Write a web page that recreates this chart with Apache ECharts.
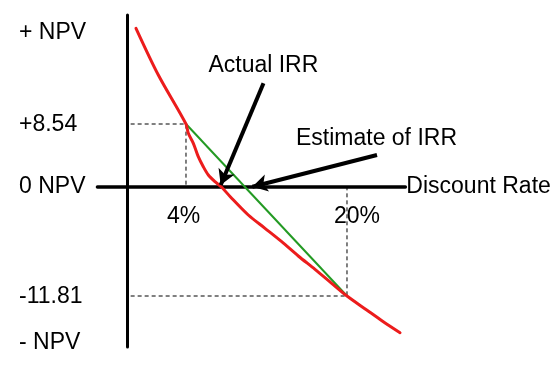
<!DOCTYPE html>
<html>
<head>
<meta charset="utf-8">
<script src="https://cdn.jsdelivr.net/npm/echarts@6/dist/echarts.min.js"></script>
<style>html,body{margin:0;padding:0;background:#fff}#c{width:559px;height:379px}</style>
</head>
<body>
<div id="c"></div>
<script>
// Schematic NPV profile (y in schematic NPV units, x in % discount rate)
const rateTicks = [4, 20];
const rateLabels = ['4%', '20%'];
const npvTickPos = [15.4, 6.2, 0, -11.0, -15.6];
const npvLabels = ['+ NPV', '+8.54', '0 NPV', '-11.81', '- NPV'];

const redRate = [-0.97, 1.25, 4.0, 4.23, 4.73, 5.22, 5.72, 6.22, 6.88, 7.55, 8.4, 10.19, 11.85, 13.51, 15.16, 16.82, 18.48, 20.0, 21.96, 23.61, 25.27];
const redNpv  = [15.87, 11.2, 6.3, 5.37, 4.37, 3.03, 2.03, 1.2, 0.53, -0.03, -0.97, -2.8, -4.13, -5.47, -6.9, -8.23, -9.63, -10.9, -12.3, -13.47, -14.57];

const greenRate = [4, 20];
const greenNpv = [6.3, -10.9];

const axisStartRate = -1.5;
const guideHigh = [[axisStartRate, 6.3], [4, 6.3], [4, 0]];
const guideLow = [[axisStartRate, -10.9], [20, -10.9], [20, 0]];

const arrowActual = [[11.7, 10.37], [7.45, 0.2]];
const arrowEstimate = [[22.98, 3.2], [10.6, 0.03]];
const annotations = [
  { text: 'Actual IRR', at: [11.69, 12.12] },
  { text: 'Estimate of IRR', at: [22.93, 4.87] }
];

const FONT = 'Liberation Sans, Arial, sans-serif';
const X_MIN = -4.8, X_MAX = 25.8;
const chart = echarts.init(document.getElementById('c'), null, { renderer: 'canvas' });

const zip = (a, b) => a.map((v, i) => [v, b[i]]);

chart.setOption({
  animation: false,
  backgroundColor: '#ffffff',
  grid: [
    { left: 97.45, right: 153.64, top: 15, bottom: 32, containLabel: false, outerBoundsMode: 'none' },
    { left: 97.45, right: 153.64, top: 15, bottom: 192, containLabel: false, outerBoundsMode: 'none' }
  ],
  xAxis: [
    {
      type: 'value', min: X_MIN, max: X_MAX, gridIndex: 0,
      axisLine: { show: true, onZero: true, lineStyle: { color: '#000', width: 3.5 } },
      axisTick: { show: false },
      splitLine: { show: false },
      axisLabel: { show: false },
      name: 'Discount Rate', nameLocation: 'end', nameGap: 1,
      nameTextStyle: { fontFamily: FONT, fontSize: 23, color: '#000', verticalAlign: 'middle', align: 'left', padding: [3, 0, 0, 0] }
    },
    {
      type: 'value', min: X_MIN, max: X_MAX, gridIndex: 1, position: 'bottom',
      axisLine: { show: false, onZero: false },
      axisTick: { show: false },
      splitLine: { show: false },
      axisLabel: {
        customValues: rateTicks,
        margin: 18,
        formatter: function (v) {
          const i = rateTicks.indexOf(v);
          return i === 0 ? '{a|' + rateLabels[i] + '}' : '{b|' + rateLabels[i] + '}';
        },
        rich: {
          a: { fontFamily: FONT, fontSize: 23, color: '#000', lineHeight: 23, padding: [0, 5, 0, 0] },
          b: { fontFamily: FONT, fontSize: 23, color: '#000', lineHeight: 23, padding: [0, 0, 0, 20] }
        }
      }
    }
  ],
  yAxis: [
    {
      type: 'value', min: -16, max: 17.2, gridIndex: 0,
      position: 'left', offset: -30.25,
      axisLine: { show: true, onZero: false, lineStyle: { color: '#000', width: 3 } },
      axisTick: { show: false },
      splitLine: { show: false },
      axisLabel: {
        customValues: npvTickPos,
        margin: 108.7,
        align: 'left',
        fontFamily: FONT, fontSize: 23, color: '#000',
        formatter: function (v) { return npvLabels[npvTickPos.indexOf(v)]; }
      }
    },
    {
      type: 'value', gridIndex: 1, min: 0, max: 1, show: false
    }
  ],
  series: [
    {
      type: 'line', data: guideHigh, symbol: 'none', silent: true,
      lineStyle: { color: '#000', width: 1, type: [4, 3] }
    },
    {
      type: 'line', data: guideLow, symbol: 'none', silent: true,
      lineStyle: { color: '#000', width: 1, type: [4, 3] }
    },
    {
      type: 'line', data: zip(greenRate, greenNpv), symbol: 'none',
      lineStyle: { color: '#239a23', width: 2 },
      markLine: {
        silent: true, symbol: ['none', 'arrow'], symbolSize: [13, 15],
        lineStyle: { color: '#000', width: 4, type: 'solid' },
        label: { show: false },
        data: [
          [{ coord: arrowActual[0] }, { coord: arrowActual[1] }],
          [{ coord: arrowEstimate[0] }, { coord: arrowEstimate[1] }]
        ]
      },
      markPoint: {
        silent: true, symbol: 'circle', symbolSize: 1,
        itemStyle: { color: 'rgba(0,0,0,0)' },
        label: { show: true, position: 'inside', fontFamily: FONT, fontSize: 23, color: '#000' },
        data: annotations.map(a => ({ coord: a.at, value: a.text, label: { formatter: a.text } }))
      }
    },
    {
      type: 'line', data: zip(redRate, redNpv), symbol: 'none', smooth: 0.3,
      lineStyle: { color: '#ec1c1c', width: 3, cap: 'round' }
    }
  ]
});
</script>
</body>
</html>
